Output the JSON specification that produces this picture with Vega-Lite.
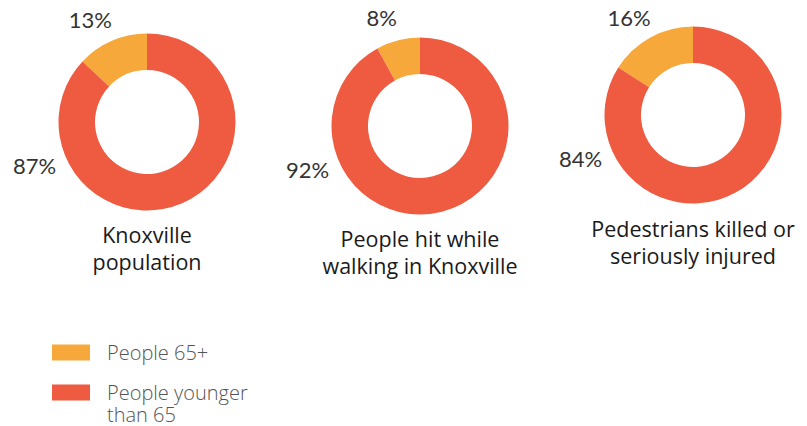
{
  "$schema": "https://vega.github.io/schema/vega-lite/v6.json",
  "background": "white",
  "padding": {"left": 13, "top": 0, "right": 0, "bottom": 0},
  "autosize": {"type": "pad"},
  "bounds": "flush",
  "spacing": 73,
  "data": {
    "values": [
      {"chart": "Knoxville population", "group": "People 65+", "share": 0.13},
      {"chart": "Knoxville population", "group": "People younger than 65", "share": 0.87},
      {"chart": "People hit while walking in Knoxville", "group": "People 65+", "share": 0.08},
      {"chart": "People hit while walking in Knoxville", "group": "People younger than 65", "share": 0.92},
      {"chart": "Pedestrians killed or seriously injured", "group": "People 65+", "share": 0.16},
      {"chart": "Pedestrians killed or seriously injured", "group": "People younger than 65", "share": 0.84}
    ]
  },
  "hconcat": [
    {
      "width": 200,
      "height": 244,
      "title": {"text": ["Knoxville", "population"], "offset": -18},
      "transform": [{"filter": "datum.chart == 'Knoxville population'"}],
      "layer": [
        {
          "mark": {"type": "arc", "outerRadius": 88.5, "innerRadius": 52},
          "encoding": {
            "theta": {"field": "share", "type": "quantitative", "stack": true},
            "color": {
              "field": "group", "type": "nominal",
              "legend": {
                "labelExpr": "datum.label == 'People younger than 65' ? ['People younger', 'than 65'] : datum.label",
                "encode": {"labels": {"update": {"dy": {"value": -9}, "lineHeight": {"value": 22}}}}
              }
            },
            "order": {"field": "group", "type": "nominal", "sort": "descending"}
          }
        },
        {
          "mark": {"type": "text", "radius": 110, "dx": -13},
          "encoding": {
            "theta": {"field": "share", "type": "quantitative", "stack": true},
            "detail": {"field": "group", "type": "nominal"},
            "order": {"field": "group", "type": "nominal", "sort": "descending"},
            "text": {"condition": {"test": "datum.group == 'People 65+'", "field": "share", "type": "quantitative", "format": ".0%"}, "value": ""}
          }
        },
        {
          "transform": [{"filter": "datum.group == 'People younger than 65'"}],
          "mark": {"type": "text", "theta": -1.95, "radius": 121},
          "encoding": {
            "text": {"field": "share", "type": "quantitative", "format": ".0%"}
          }
        }
      ]
    },
    {
      "width": 200,
      "height": 252,
      "title": {"text": ["People hit while", "walking in Knoxville"], "offset": -22},
      "transform": [{"filter": "datum.chart == 'People hit while walking in Knoxville'"}],
      "layer": [
        {
          "mark": {"type": "arc", "outerRadius": 88.5, "innerRadius": 52},
          "encoding": {
            "theta": {"field": "share", "type": "quantitative", "stack": true},
            "color": {
              "field": "group", "type": "nominal",
              "legend": {
                "labelExpr": "datum.label == 'People younger than 65' ? ['People younger', 'than 65'] : datum.label",
                "encode": {"labels": {"update": {"dy": {"value": -9}, "lineHeight": {"value": 22}}}}
              }
            },
            "order": {"field": "group", "type": "nominal", "sort": "descending"}
          }
        },
        {
          "mark": {"type": "text", "radius": 110, "dx": -11},
          "encoding": {
            "theta": {"field": "share", "type": "quantitative", "stack": true},
            "detail": {"field": "group", "type": "nominal"},
            "order": {"field": "group", "type": "nominal", "sort": "descending"},
            "text": {"condition": {"test": "datum.group == 'People 65+'", "field": "share", "type": "quantitative", "format": ".0%"}, "value": ""}
          }
        },
        {
          "transform": [{"filter": "datum.group == 'People younger than 65'"}],
          "mark": {"type": "text", "theta": -1.95, "radius": 121},
          "encoding": {
            "text": {"field": "share", "type": "quantitative", "format": ".0%"}
          }
        }
      ]
    },
    {
      "width": 200,
      "height": 230,
      "title": {"text": ["Pedestrians killed or", "seriously injured"], "offset": -10},
      "transform": [{"filter": "datum.chart == 'Pedestrians killed or seriously injured'"}],
      "layer": [
        {
          "mark": {"type": "arc", "outerRadius": 88.5, "innerRadius": 52},
          "encoding": {
            "theta": {"field": "share", "type": "quantitative", "stack": true},
            "color": {
              "field": "group", "type": "nominal",
              "legend": {
                "labelExpr": "datum.label == 'People younger than 65' ? ['People younger', 'than 65'] : datum.label",
                "encode": {"labels": {"update": {"dy": {"value": -9}, "lineHeight": {"value": 22}}}}
              }
            },
            "order": {"field": "group", "type": "nominal", "sort": "descending"}
          }
        },
        {
          "mark": {"type": "text", "radius": 110, "dx": -11},
          "encoding": {
            "theta": {"field": "share", "type": "quantitative", "stack": true},
            "detail": {"field": "group", "type": "nominal"},
            "order": {"field": "group", "type": "nominal", "sort": "descending"},
            "text": {"condition": {"test": "datum.group == 'People 65+'", "field": "share", "type": "quantitative", "format": ".0%"}, "value": ""}
          }
        },
        {
          "transform": [{"filter": "datum.group == 'People younger than 65'"}],
          "mark": {"type": "text", "theta": -1.95, "radius": 121},
          "encoding": {
            "text": {"field": "share", "type": "quantitative", "format": ".0%"}
          }
        }
      ]
    }
  ],
  "config": {
    "view": {"stroke": null},
    "text": {"font": "Lato", "fontSize": 22, "color": "#333333"},
    "title": {"font": "Open Sans", "fontSize": 21.5, "fontWeight": "normal", "color": "#1a1a1a", "lineHeight": 27, "orient": "bottom", "frame": "group", "anchor": "middle", "baseline": "top"},
    "range": {"category": ["#F7A83B", "#EE5B40"]},
    "legend": {
      "orient": "none",
      "legendX": 5,
      "legendY": 333.5,
      "title": null,
      "padding": 0,
      "symbolType": "M-1,-0.42L1,-0.42L1,0.42L-1,0.42Z",
      "symbolSize": 1444,
      "symbolStrokeWidth": 0,
      "symbolOpacity": 1,
      "labelFont": "Open Sans",
      "labelFontSize": 20,
      "labelFontWeight": 300,
      "labelColor": "#555555",
      "labelOffset": 17,
      "labelLimit": 0,
      "labelBaseline": "top",
      "rowPadding": 10
    }
  }
}
